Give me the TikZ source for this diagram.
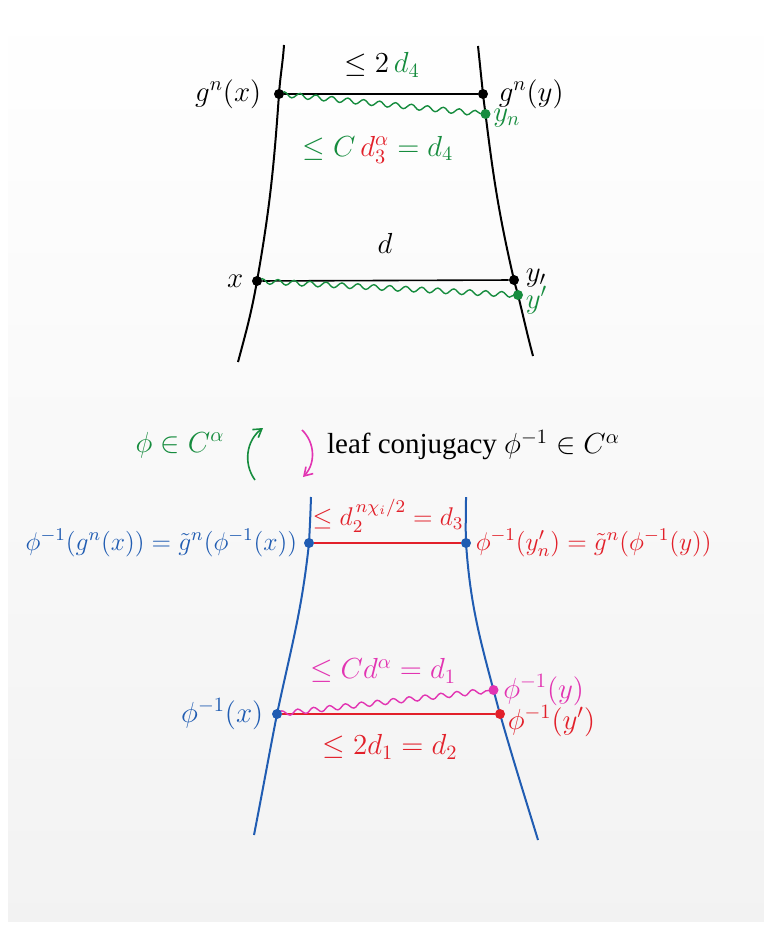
\RequirePackage{fix-cm}
\documentclass[tikz,border=0pt]{standalone}
\usepackage{amsmath}
\usepackage{amssymb}
\usepackage{fontspec}
\setmainfont{Liberation Serif}
\usepackage{tikz}
\usetikzlibrary{positioning,calc,arrows.meta,decorations.pathmorphing,backgrounds}
\usepackage{xcolor}
\definecolor{lgreen}{RGB}{22,140,62}
\definecolor{lred}{RGB}{226,32,42}
\definecolor{lblue}{RGB}{32,92,178}
\definecolor{lmag}{RGB}{226,52,178}

\begin{document}
\begin{tikzpicture}[
    x=0.5pt, y=-0.5pt,
    font=\fontsize{14.5}{17.5}\selectfont,
    leaf/.style={line width=1pt, black},
    bleaf/.style={line width=1pt, lblue},
    seg/.style={line width=0.8pt},
    wavy/.style={decorate, decoration={snake, segment length=8pt, amplitude=1.3pt}, line width=0.7pt},
    dot/.style={circle, fill, inner sep=0pt, minimum size=5pt},
    turn/.style={-{Straight Barb[length=4pt,width=5pt]}, line width=0.8pt},
    lab/.style={inner sep=0pt},
    small/.style={font=\fontsize{12.8}{15.5}\selectfont},
]
\useasboundingbox (0,0) rectangle (764,925);
\begin{scope}[on background layer]
\fill[top color=white, bottom color=black!5] (8,0) rectangle (764,921);
\end{scope}

% upper leaves
\node[dot] (gx) at (279,94) {};
\node[dot] (gy) at (483,94) {};
\node[dot, lgreen] (yn) at (485.5,114) {};
\node[dot] (x) at (257,281) {};
\node[dot] (yp) at (514,280) {};
\node[dot, lgreen] (ypg) at (518,295) {};

\begin{scope}[on background layer]
\draw[leaf] (284,45) to[out=-94,in=86] (gx.center) to[out=-94,in=80] (x.center)
    to[out=-100,in=75] (238,362);
\draw[leaf] (478,46) to[out=-84,in=96] (gy.center) to[out=-84,in=97] (yn.center)
    to[out=-83,in=103] (yp.center) to[out=-77,in=104] (ypg.center) to[out=-76,in=105] (533,356);
\draw[seg] (gx) -- (gy);
\draw[wavy, lgreen] (gx.center) -- (yn.center);
\draw[seg] (x) -- (yp);
\draw[wavy, lgreen] (x.center) -- (ypg.center);
\end{scope}

\node[lab, left=6pt of gx] (lgx) {$g^n(x)$};
\node[lab, right=5pt of gy] (lgy) {$g^n(y)$};
\node[lab, right=1pt of yn, yshift=-2pt, text=lgreen] (lyn) {$y_n$};
\node[lab, left=4pt of x] (lx) {$x$};
\node[lab, right=3pt of yp, yshift=1pt] (lyp) {$y_{\prime}$};
\node[lab, right=1pt of ypg, yshift=-2.5pt, text=lgreen] (lypg) {$y'$};

\node (top) at (382,65) {$\le 2\,\textcolor{lgreen}{d_4}$};
\node[text=lgreen] (hold) at (378,150) {$\le C\,\textcolor{lred}{d_3^\alpha} = d_4$};
\node (dd) at (385,243) {$d$};

% conjugacy
\node[text=lgreen] (phi) at (180,445) {$\phi\in C^\alpha$};
\node[anchor=west] (conj) at (320,445) {leaf conjugacy $\phi^{-1}\in C^\alpha$};
\coordinate (ga) at (255,480);
\coordinate (gb) at (263,428);
\coordinate (ma) at (302,430);
\coordinate (mb) at (303,477);
\draw[turn, lgreen] (ga) to[bend left=45] (gb);
\draw[turn, lmag] (ma) to[bend left=45] (mb);

% lower leaves
\node[dot, lblue] (ax) at (309,543) {};
\node[dot, lblue] (ay) at (466,543) {};
\node[dot, lblue] (bx) at (277,714) {};
\node[dot, lmag] (by) at (493.5,690) {};
\node[dot, lred] (byp) at (500,714) {};

\begin{scope}[on background layer]
\draw[bleaf] (311,497) to[out=-92,in=87] (ax.center) to[out=-96,in=78] (bx.center)
    to[out=-101,in=79] (254,835);
\draw[bleaf] (466,497) to[out=-90,in=92] (ay.center) to[out=-86,in=105] (by.center)
    to[out=-75,in=106] (byp.center) to[out=-74,in=107] (538,840);
\draw[seg, lred] (ax) -- (ay);
\draw[seg, lred] (bx) -- (byp);
\draw[wavy, lmag] (bx.center) -- (by.center);
\end{scope}

\node[lab, small, left=3pt of ax, text=lblue] (lax) {$\phi^{-1}(g^n(x))=\tilde g^n(\phi^{-1}(x))$};
\node[lab, small, right=2pt of ay, text=lred] (lay) {$\phi^{-1}(y_n')=\tilde g^n(\phi^{-1}(y))$};
\node[lab, left=4pt of bx, text=lblue] (lbx) {$\phi^{-1}(x)$};
\node[lab, right=2pt of by, text=lmag] (lby) {$\phi^{-1}(y)$};
\node[lab, right=1pt of byp, yshift=-3.5pt, text=lred] (lbyp) {$\phi^{-1}(y')$};

\node[small, text=lred] (exp) at (388,516) {$\le d_2^{\,n\chi_i/2} = d_3$};
\node[text=lmag] (hold2) at (383,671) {$\le C d^\alpha = d_1$};
\node[text=lred] (dbl) at (390,747) {$\le 2 d_1 = d_2$};
\end{tikzpicture}
\end{document}
